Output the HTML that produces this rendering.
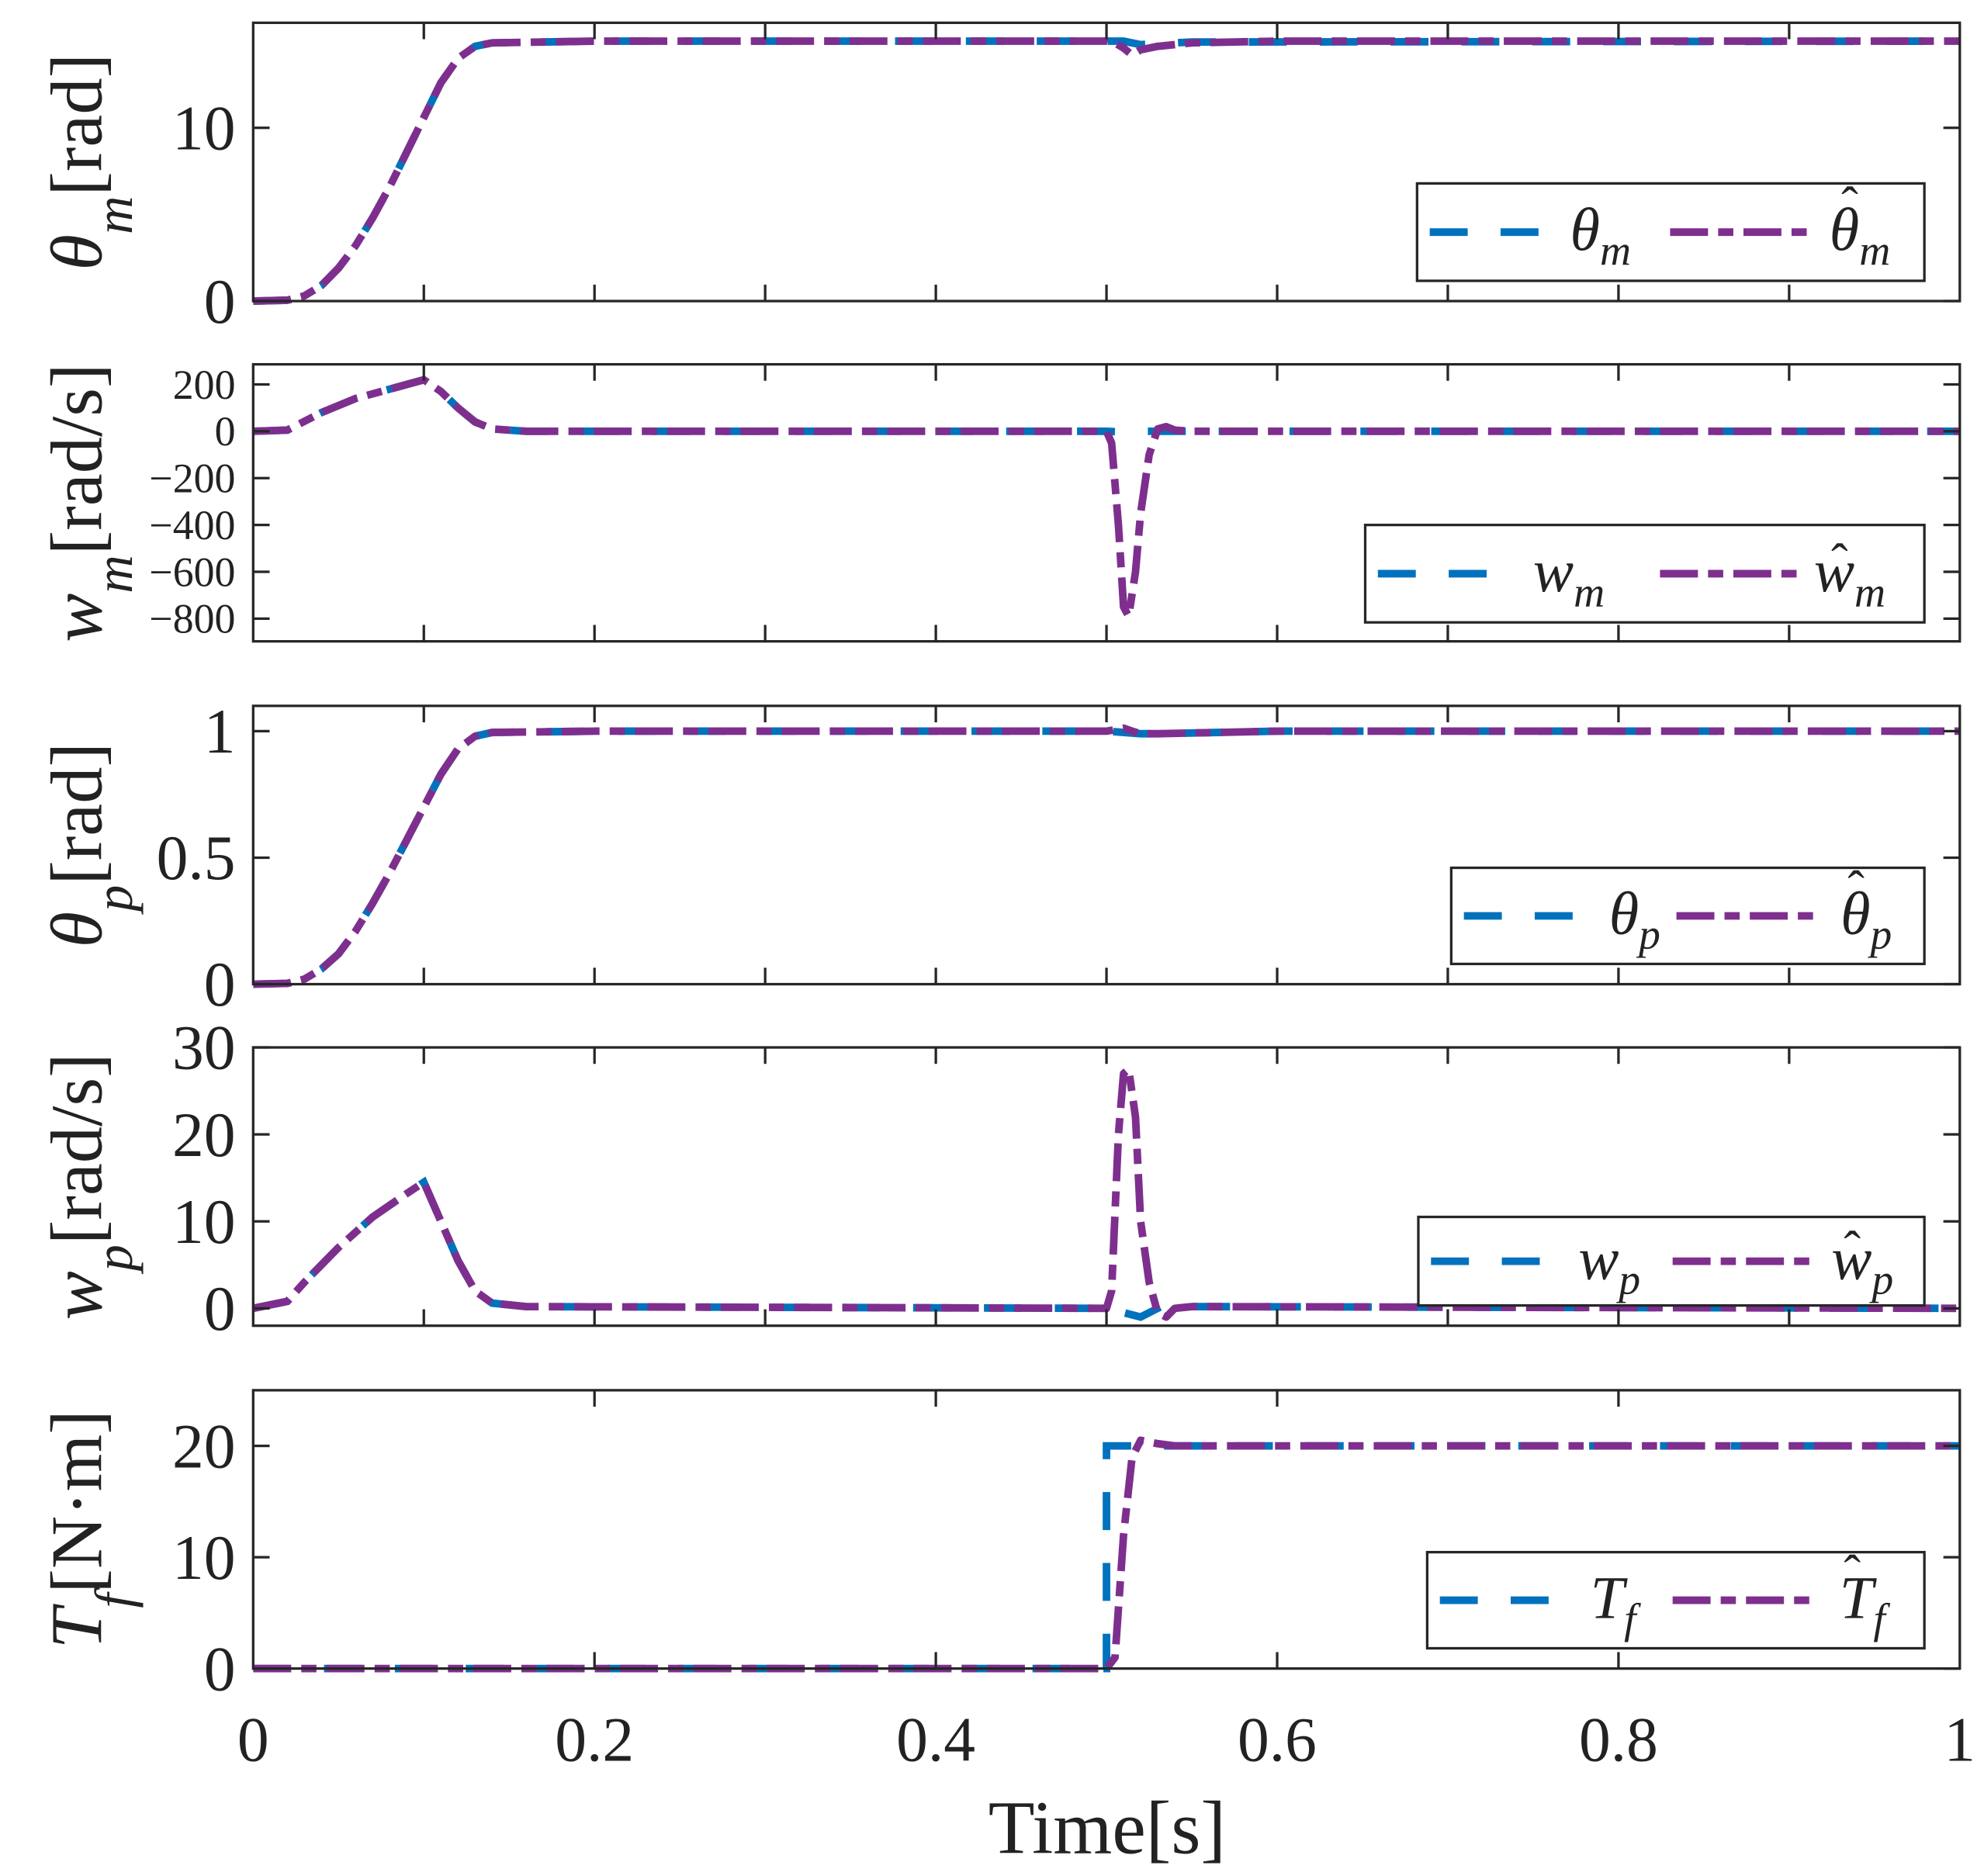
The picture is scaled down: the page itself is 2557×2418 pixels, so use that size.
<!DOCTYPE html>
<html><head><meta charset="utf-8"><style>
html,body{margin:0;padding:0;background:#fff;}
svg{display:block;}
text{font-family:"Liberation Serif",serif;fill:#222;}
</style></head><body>
<svg id="fig" width="2557" height="2418" viewBox="0 0 1568 1483" xmlns="http://www.w3.org/2000/svg"></svg>
<script>
// ---- data ----
const tThm = [0,.02,.03,.04,.05,.06,.07,.08,.09,.1,.11,.12,.13,.14,.2,.5,.505,.51,.515,.52,.53,.55,.6,1];
const thmHat = [0,.05,.3,.9,1.9,3.2,4.8,6.6,8.6,10.6,12.6,14.0,14.7,14.9,15,15,14.9,14.6,14.2,14.5,14.7,14.9,15,15];
const tThmRef = [0,.02,.03,.04,.05,.06,.07,.08,.09,.1,.11,.12,.13,.14,.2,.5,.51,.52,.55,1];
const thmRef = [0,.05,.3,.9,1.9,3.2,4.8,6.6,8.6,10.6,12.6,14.0,14.7,14.9,15,15,15,14.8,14.95,15];

const tWm = [0,.02,.04,.06,.08,.1,.11,.12,.13,.14,.16,.5,.503,.507,.51,.513,.517,.52,.525,.53,.535,.54,.55,1];
const wmHat = [0,5,80,140,180,220,170,100,40,10,0,0,-50,-400,-750,-790,-600,-350,-100,10,20,5,0,0];
const tWmRef = [0,.02,.04,.06,.08,.1,.11,.12,.13,.14,.16,.5,.51,.52,1];
const wmRef = [0,5,80,140,180,220,170,100,40,10,0,0,-3,0,0];

const tThp = [0,.02,.03,.04,.05,.06,.07,.08,.09,.1,.11,.12,.13,.14,.2,.5,.51,.515,.52,.53,.6,1];
const thpHat = [0,.003,.02,.06,.12,.21,.32,.44,.57,.7,.83,.93,.98,.995,1,1,1.012,1.0,.99,.99,1,1];
const tThpRef = [0,.02,.03,.04,.05,.06,.07,.08,.09,.1,.11,.12,.13,.14,.2,.5,.52,.53,.6,1];
const thpRef = [0,.003,.02,.06,.12,.21,.32,.44,.57,.7,.83,.93,.98,.995,1,1,.99,.99,1,1];

const tWp = [0,.02,.03,.05,.07,.09,.1,.11,.12,.13,.14,.16,.5,.503,.507,.51,.513,.517,.52,.525,.53,.535,.54,.55,1];
const wpHat = [0,.8,3,7,10.5,13.2,14.5,10,5.5,2,.6,.2,0,2,20,27,27.5,22,10,3,-.5,-1,0,.2,0];
const tWpRef = [0,.02,.03,.05,.07,.09,.1,.11,.12,.13,.14,.16,.5,.52,.53,.535,.55,1];
const wpRef = [0,.8,3,7,10.5,13.2,14.5,10,5.5,2,.6,.2,0,-1,0,.5,.2,0];

const tTf = [0,.5,.505,.51,.515,.52,.53,.54,1];
const tfHat = [0,0,1,12,19,20.5,20.2,20,20];
const tTfRef = [0,.5,.5,1];
const tfRef = [0,0,20,20];

const xTicks = [0,0.2,0.4,0.6,0.8,1];
const xTickLabels = ["0","0.2","0.4","0.6","0.8","1"];

// ---- layout ----
const svg = document.getElementById('fig');
const NS = 'http://www.w3.org/2000/svg';
const X0 = 200, X1 = 1549;
const sx = t => X0 + t*(X1-X0);
function mk(tag, attrs, parent){const e=document.createElementNS(NS,tag);for(const k in attrs)e.setAttribute(k,attrs[k]);(parent||svg).appendChild(e);return e;}

const LW = 6;
const DASH = '30 26';
const DASHDOT = '30 8 12 8';

const panels = [
 {top:18,bot:238,ymin:0,ymax:16.06,ticks:[0,10],labels:["0","10"],fs:50,
  ylab:["θ","m","[rad]"],
  ref:[tThmRef,thmRef],hat:[tThm,thmHat],leg:{x:1120,y:145,w:401,h:77,a:"θ",b:"m",ax:1265,bx:1470},name:"theta-m"},
 {top:288,bot:507,ymin:-897,ymax:286,ticks:[200,0,-200,-400,-600,-800],labels:["200","0","−200","−400","−600","−800"],fs:33,
  ylab:["w","m","[rad/s]"],
  ref:[tWmRef,wmRef],hat:[tWm,wmHat],leg:{x:1079,y:415,w:442,h:77,a:"w",b:"m",ax:1240,bx:1462},name:"w-m"},
 {top:558,bot:778,ymin:0,ymax:1.1,ticks:[0,0.5,1],labels:["0","0.5","1"],fs:50,
  ylab:["θ","p","[rad]"],
  ref:[tThpRef,thpRef],hat:[tThp,thpHat],leg:{x:1147,y:686,w:374,h:76,a:"θ",b:"p",ax:1292,bx:1475},name:"theta-p"},
 {top:828,bot:1048,ymin:-2,ymax:30,ticks:[0,10,20,30],labels:["0","10","20","30"],fs:50,
  ylab:["w","p","[rad/s]"],
  ref:[tWpRef,wpRef],hat:[tWp,wpHat],leg:{x:1121,y:962,w:400,h:70,a:"w",b:"p",ax:1272,bx:1472},name:"w-p"},
 {top:1099,bot:1319,ymin:0,ymax:25,ticks:[0,10,20],labels:["0","10","20"],fs:50,
  ylab:["T","f","[N·m]"],
  ref:[tTfRef,tfRef],hat:[tTf,tfHat],leg:{x:1128,y:1227,w:393,h:76,a:"T",b:"f",ax:1275,bx:1472},name:"t-f"}
];

panels.forEach((p,i)=>{
  const g = mk('g',{});
  
  
  const sy = v => p.bot - (v-p.ymin)/(p.ymax-p.ymin)*(p.bot-p.top);
  const cp = mk('clipPath',{id:'c'+i},g);
  mk('rect',{x:X0,y:p.top-4,width:X1-X0,height:p.bot-p.top+8},cp);
  const path = (ts,vs) => ts.map((t,k)=>(k?'L':'M')+sx(t).toFixed(2)+','+sy(vs[k]).toFixed(2)).join('');
  const ref = mk('path',{d:path(p.ref[0],p.ref[1]),fill:'none',stroke:'#0072BD','stroke-width':LW,'stroke-dasharray':DASH,'clip-path':'url(#c'+i+')'},g);
  
  
  const hat = mk('path',{d:path(p.hat[0],p.hat[1]),fill:'none',stroke:'#7E2F8E','stroke-width':LW,'stroke-dasharray':DASHDOT,'stroke-linejoin':'round','clip-path':'url(#c'+i+')'},g);
  
  
  const box = mk('rect',{x:X0,y:p.top,width:X1-X0,height:p.bot-p.top,fill:'none',stroke:'#262626','stroke-width':2},g);
  
  
  const step = i===4?0.2:0.1;
  for(let t=step;t<0.999;t+=step){
    const x=sx(t);
    mk('line',{x1:x,x2:x,y1:p.bot,y2:p.bot-13,stroke:'#262626','stroke-width':2},g);
    mk('line',{x1:x,x2:x,y1:p.top,y2:p.top+13,stroke:'#262626','stroke-width':2},g);
  }
  p.ticks.forEach((v,k)=>{
    const y=sy(v);
    mk('line',{x1:X0,x2:X0+13,y1:y,y2:y,stroke:'#262626','stroke-width':2},g);
    mk('line',{x1:X1,x2:X1-13,y1:y,y2:y,stroke:'#262626','stroke-width':2},g);
    const tx = mk('text',{x:X0-14,y:y+p.fs*0.34,'text-anchor':'end','font-size':p.fs},g);
    tx.textContent = p.labels[k];
    
    
  });
  const cy = (p.top+p.bot)/2;
  const yl = mk('text',{x:0,y:0,'text-anchor':'middle','font-size':58,transform:`translate(80,${cy}) rotate(-90)`},g);
  
  
  const a=mk('tspan',{'font-style':'italic'},yl); a.textContent=p.ylab[0];
  const b=mk('tspan',{'font-style':'italic','font-size':42,dy:24},yl); b.textContent=p.ylab[1];
  const c=mk('tspan',{dy:-24},yl); c.textContent=p.ylab[2];
  const L=p.leg;
  const lg = mk('g',{},g);
  
  
  mk('rect',{x:L.x,y:L.y,width:L.w,height:L.h,fill:'#fff',stroke:'#262626','stroke-width':2},lg);
  const ly=L.y+L.h/2;
  mk('line',{x1:L.x+10,x2:L.x+96,y1:ly,y2:ly,stroke:'#0072BD','stroke-width':LW,'stroke-dasharray':DASH},lg);
  mk('line',{x1:L.bx-150,x2:L.bx-40,y1:ly,y2:ly,stroke:'#7E2F8E','stroke-width':LW,'stroke-dasharray':DASHDOT},lg);
  const t1=mk('text',{x:L.ax,y:ly+14,'font-size':48,'font-style':'italic','text-anchor':'middle'},lg);
  
  
  const t1a=mk('tspan',{},t1); t1a.textContent=L.a;
  const t1b=mk('tspan',{'font-size':34,dy:12},t1); t1b.textContent=L.b;
  const t2=mk('text',{x:L.bx,y:ly+14,'font-size':48,'font-style':'italic','text-anchor':'middle'},lg);
  
  
  const t2a=mk('tspan',{},t2); t2a.textContent=L.a;
  const t2b=mk('tspan',{'font-size':34,dy:12},t2); t2b.textContent=L.b;
  const tall = (L.a!=='w');
  const hatc=mk('text',{x:L.bx-8,y:ly+(tall?-8:4),'font-size':40,'text-anchor':'middle'},lg);
  hatc.textContent='ˆ';
});

xTicks.forEach((t,k)=>{
  const tx = mk('text',{x:sx(t),y:1392,'text-anchor':'middle','font-size':50});
  tx.textContent = xTickLabels[k];
  
  
});
const xt = mk('text',{x:875,y:1465,'text-anchor':'middle','font-size':60});
xt.textContent='Time[s]';


</script>
</body></html>
